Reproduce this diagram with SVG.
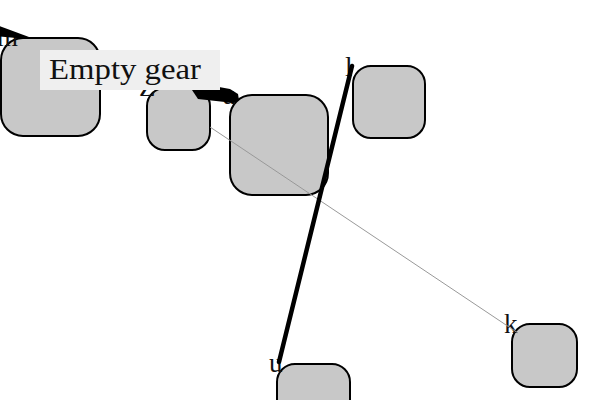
<svg xmlns="http://www.w3.org/2000/svg" width="600" height="400" viewBox="0 0 600 400">
<style>
.node rect{fill:#c8c8c8;stroke:#000;stroke-width:2}
.lbl{font-family:"Liberation Serif","DejaVu Serif",serif;font-size:27px;fill:#111}
</style>
<rect width="600" height="400" fill="#fff"/>
<g id="node-m" class="node"><rect x="1" y="38" width="99" height="98" rx="22"/><text class="lbl" x="-3" y="46">m</text></g>
<g id="node-Z" class="node"><rect x="147" y="88" width="63" height="62" rx="18"/><text class="lbl" x="139" y="96">Z</text></g>
<g id="node-u1" class="node"><rect x="230" y="95" width="98" height="100" rx="22"/><text class="lbl" x="222" y="104">u</text></g>
<g id="node-l" class="node"><rect x="353" y="66" width="72" height="72" rx="18"/><text class="lbl" x="345" y="76">l</text></g>
<g id="node-u2" class="node"><rect x="277" y="364" width="73" height="72" rx="18"/><text class="lbl" x="269" y="372">u</text></g>
<g id="node-k" class="node"><rect x="512" y="324" width="65" height="63" rx="18"/><text class="lbl" x="504" y="333">k</text></g>
<g id="connectors">
<polygon points="-6,24 29,37 27,39 -6,36" fill="#000"/>
<polygon points="186,81 230,89 238,94 239,100 234,103 198,99" fill="#000"/>
<line x1="210" y1="127" x2="518" y2="333" stroke="#999" stroke-width="1"/>
<line x1="352" y1="66" x2="279" y2="362" stroke="#000" stroke-width="4.5" stroke-linecap="round"/>
</g>
<g id="label-empty-gear">
<rect x="40" y="50" width="180" height="40" fill="#efefef"/>
<text x="49" y="79" font-family="Liberation Serif, DejaVu Serif, serif" font-size="30" fill="#111" textLength="152" lengthAdjust="spacingAndGlyphs">Empty gear</text>
</g>
</svg>
